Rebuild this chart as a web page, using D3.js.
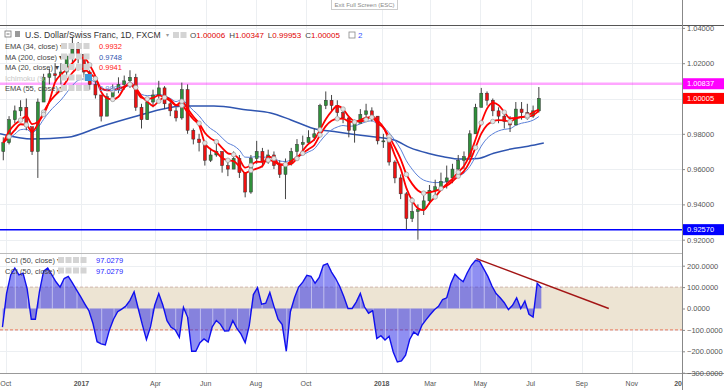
<!DOCTYPE html>
<html>
<head>
<meta charset="utf-8">
<script src="https://cdn.jsdelivr.net/npm/d3@7"></script>
<style>
  html, body { margin: 0; padding: 0; background: #fff; }
  svg { display: block; font-family: Arial, "Liberation Sans", sans-serif; }
</style>
</head>
<body>
<div id="chart"></div>
<script>
!(function(){
    "use strict"

    var width = 724;
    var height = 390;
    var axisX = 682;       // right price axis
    var mainBottom = 253;  // separator between price and CCI panes
    var cciBottom = 373;

    // weekly candles (USD/CHF, FXCM)
    var weekStart = "2016-09-26";
    var firstOpen = 0.970;
    var closes = [0.975,0.988,0.993,0.995,0.984,0.970,0.998,1.012,1.014,1.013,
                  1.015,1.024,1.028,1.025,1.015,1.008,1.002,0.990,1.001,1.005,
                  1.008,1.010,1.012,0.995,0.988,0.998,1.002,1.006,0.997,0.993,
                  0.989,1.005,0.982,0.977,0.975,0.965,0.968,0.970,0.962,0.960,
                  0.966,0.958,0.947,0.966,0.970,0.964,0.968,0.962,0.957,0.963,
                  0.970,0.974,0.975,0.978,0.980,0.996,0.999,0.996,0.992,0.989,
                  0.982,0.986,0.991,0.993,0.990,0.976,0.976,0.964,0.955,0.946,
                  0.932,0.936,0.937,0.942,0.948,0.950,0.953,0.955,0.960,0.965,
                  0.967,0.980,0.995,1.003,0.999,0.993,0.990,0.987,0.985,0.994,
                  0.992,0.990,0.993,1.00005];
    var highs = [0.978,0.990,0.996,0.999,1.000,0.983,1.000,1.014,1.017,1.020,
                 1.020,1.025,1.035,1.032,1.025,1.016,1.010,1.002,1.003,1.008,
                 1.012,1.013,1.016,1.014,0.997,1.000,1.005,1.010,1.007,0.999,
                 0.995,1.009,1.008,0.983,0.980,0.973,0.972,0.975,0.970,0.966,
                 0.970,0.968,0.958,0.968,0.976,0.972,0.971,0.970,0.965,0.966,
                 0.972,0.977,0.979,0.982,0.983,0.997,1.004,1.002,0.999,0.995,
                 0.990,0.988,0.994,0.997,0.995,0.990,0.980,0.978,0.965,0.957,
                 0.947,0.944,0.940,0.945,0.951,0.954,0.958,0.962,0.963,0.968,
                 0.970,0.982,0.997,1.006,1.004,1.000,0.995,0.993,0.990,0.998,
                 0.998,0.997,0.996,1.0065];
    var lows = [0.965,0.974,0.986,0.990,0.982,0.968,0.955,0.998,1.008,1.010,
                1.008,1.012,1.020,1.020,1.012,1.005,1.000,0.987,0.990,1.000,
                1.003,1.005,1.006,0.993,0.983,0.988,0.995,1.000,0.994,0.990,
                0.987,0.988,0.980,0.974,0.970,0.962,0.964,0.967,0.958,0.956,
                0.960,0.955,0.944,0.946,0.963,0.961,0.963,0.960,0.955,0.943,
                0.962,0.967,0.970,0.975,0.976,0.980,0.994,0.993,0.990,0.986,
                0.978,0.975,0.986,0.988,0.987,0.974,0.972,0.962,0.952,0.943,
                0.9257,0.930,0.920,0.934,0.940,0.943,0.948,0.949,0.952,0.957,
                0.960,0.966,0.980,0.995,0.996,0.990,0.986,0.983,0.981,0.985,
                0.988,0.988,0.989,0.992];

    // MA (200)
    var ma200Dates = ["2016-09-24","2016-11-03","2016-12-15","2017-01-24","2017-03-05","2017-04-16",
                      "2017-05-05","2017-06-11","2017-07-22","2017-08-19","2017-09-12","2017-10-10",
                      "2017-11-08","2017-12-09","2018-01-16","2018-02-05","2018-02-26","2018-03-17",
                      "2018-04-07","2018-04-28","2018-05-17","2018-06-07","2018-06-28","2018-07-17"];
    var ma200Values = [0.980,0.977,0.978,0.984,0.9895,0.9946,0.9957,0.9957,0.9935,0.9918,0.988,0.983,
                       0.981,0.979,0.9765,0.972,0.969,0.967,0.9657,0.966,0.969,0.9714,0.973,0.9748];

    // CCI (50, close), one reading every 5 days
    var cciStart = "2016-09-27";
    var cciValues = [-87,71,157,189,157,165,92,-50,-50,80,
                     175,189,157,125,100,140,150,120,87,55,
                     22,-10,-70,-155,-165,-170,-100,-50,-15,-3,
                     12,38,78,0,-75,-145,-85,14,70,15,
                     -57,-88,-100,-135,5,-40,-200,-200,-160,-142,
                     -157,-86,-56,-74,-105,-104,-57,-93,-120,-160,
                     -80,65,98,20,25,75,10,-50,-75,-200,
                     -15,50,100,123,155,150,118,145,202,210,
                     170,140,103,55,0,0,30,70,8,-22,
                     -10,-140,-127,-147,-130,-203,-250,-245,-218,-145,
                     -110,-124,-77,-52,-28,-6,10,42,50,117,
                     160,140,125,167,202,225,220,185,150,105,
                     70,50,27,-5,15,50,0,35,-27,-40,
                     118,97.03];
    var cciTrend = [["2018-04-26", 233], ["2018-10-04", 0]];

    var priceTicks = [1.04, 1.02, 1.00, 0.98, 0.96, 0.94, 0.92];
    var cciTicks = [200, 100, 0, -100, -200, -300];
    var timeTicks = [["2016-10-01","Oct",false],["2017-01-01","2017",true],["2017-04-01","Apr",false],
                     ["2017-06-01","Jun",false],["2017-08-01","Aug",false],["2017-10-01","Oct",false],
                     ["2018-01-01","2018",true],["2018-03-01","Mar",false],["2018-05-01","May",false],
                     ["2018-07-01","Jul",false],["2018-09-01","Sep",false],["2018-11-01","Nov",false],
                     ["2019-01-01","2019",true]];
    var levels = [{value: 1.00837, line: "rgba(255,0,255,0.35)", w: 2.5},
                  {value: 0.92570, line: "#0000ff", w: 1.5}];

    var parse = d3.utcParse("%Y-%m-%d");

    var candles = closes.map(function(c, i) {
        return {
            date: d3.utcDay.offset(parse(weekStart), i * 7 + 2),
            open: i === 0 ? firstOpen : closes[i - 1],
            high: highs[i],
            low: lows[i],
            close: c
        };
    });

    // indicator lines from the weekly closes (periods scaled from daily bars)
    function ema(period) {
        var k = 2 / (period + 1), prev = closes[0];
        return candles.map(function(d) { prev = d.close * k + prev * (1 - k); return {date: d.date, v: prev}; });
    }
    function sma(period) {
        return candles.map(function(d, i) {
            var s = closes.slice(Math.max(0, i - period + 1), i + 1);
            return {date: d.date, v: d3.mean(s)};
        });
    }
    var ema34 = ema(34 / 5);
    var ma20 = sma(4);
    var ema55 = ema(55 / 5);
    var ma200 = ma200Dates.map(function(d, i) { return {date: parse(d), v: ma200Values[i]}; });
    var cci = cciValues.map(function(v, i) { return {date: d3.utcDay.offset(parse(cciStart), i * 5), v: v}; });

    var x = d3.scaleUtc()
        .domain([parse("2016-09-24"), parse("2019-01-01")])
        .range([0, axisX]);
    var y = d3.scaleLinear().domain([0.92, 1.04]).range([239.7, 27.9]);
    var yc = d3.scaleLinear().domain([-300, 200]).range([372.7, 265.7]);

    var svg = d3.select("#chart").append("svg")
        .attr("width", width)
        .attr("height", height);

    svg.append("rect").attr("width", width).attr("height", height).attr("fill", "#fff");

    var defs = svg.append("defs");
    defs.append("clipPath").attr("id", "clipMain")
        .append("rect").attr("x", 0).attr("y", 0).attr("width", axisX).attr("height", mainBottom);
    defs.append("clipPath").attr("id", "clipCci")
        .append("rect").attr("x", 0).attr("y", mainBottom).attr("width", axisX).attr("height", cciBottom - mainBottom);
    defs.append("clipPath").attr("id", "clipAxis")
        .append("rect").attr("x", 0).attr("y", cciBottom).attr("width", axisX).attr("height", height - cciBottom);

    // ---- grid
    var grid = svg.append("g").attr("stroke", "#eceff2").attr("stroke-width", 1);
    grid.selectAll("line.v").data(timeTicks).enter().append("line")
        .attr("x1", function(d){ return Math.round(x(parse(d[0]))) + 0.5; })
        .attr("x2", function(d){ return Math.round(x(parse(d[0]))) + 0.5; })
        .attr("y1", 0).attr("y2", cciBottom);
    grid.selectAll("line.h").data(priceTicks).enter().append("line")
        .attr("x1", 0).attr("x2", axisX)
        .attr("y1", function(d){ return Math.round(y(d)) + 0.5; })
        .attr("y2", function(d){ return Math.round(y(d)) + 0.5; });
    grid.selectAll("line.c").data(cciTicks.slice(0, 5)).enter().append("line")
        .attr("x1", 0).attr("x2", axisX)
        .attr("y1", function(d){ return Math.round(yc(d)) + 0.5; })
        .attr("y2", function(d){ return Math.round(yc(d)) + 0.5; });

    // ---- price pane
    var main = svg.append("g").attr("clip-path", "url(#clipMain)");

    main.selectAll("line.level").data(levels).enter().append("line")
        .attr("x1", 0).attr("x2", axisX)
        .attr("y1", function(d){ return y(d.value); })
        .attr("y2", function(d){ return y(d.value); })
        .attr("stroke", function(d){ return d.line; })
        .attr("stroke-width", function(d){ return d.w; });

    var line = d3.line()
        .x(function(d){ return x(d.date); })
        .y(function(d){ return y(d.v); })
        .curve(d3.curveMonotoneX);

    main.append("path").datum(ma200).attr("d", line)
        .attr("fill", "none").attr("stroke", "#2f55b0").attr("stroke-width", 1.5);
    main.append("path").datum(ema55).attr("d", line)
        .attr("fill", "none").attr("stroke", "#5a7fd8").attr("stroke-width", 1);

    // candles
    var bodyW = 3;
    var cg = main.append("g");
    cg.selectAll("line.wick").data(candles).enter().append("line")
        .attr("x1", function(d){ return x(d.date); })
        .attr("x2", function(d){ return x(d.date); })
        .attr("y1", function(d){ return y(d.high); })
        .attr("y2", function(d){ return y(d.low); })
        .attr("stroke", "#444").attr("stroke-width", 1);
    cg.selectAll("rect").data(candles).enter().append("rect")
        .attr("x", function(d){ return x(d.date) - bodyW / 2; })
        .attr("y", function(d){ return y(Math.max(d.open, d.close)); })
        .attr("width", bodyW)
        .attr("height", function(d){ return Math.max(1, Math.abs(y(d.open) - y(d.close))); })
        .attr("fill", function(d){ return d.close >= d.open ? "#2f8f3a" : "#ee1111"; })
        .attr("stroke", "#333").attr("stroke-width", 0.5);

    main.append("path").datum(ema34).attr("d", line)
        .attr("fill", "none").attr("stroke", "#ff0000").attr("stroke-width", 1.8);
    main.append("path").datum(ma20).attr("d", line)
        .attr("fill", "none").attr("stroke", "#ff0000").attr("stroke-width", 1.8);

    // little grey markers sitting on the averages
    var marks = ema34.filter(function(d, i){ return i % 3 === 1; })
        .concat(ma20.filter(function(d, i){ return i % 4 === 3; }));
    main.selectAll("circle.mk").data(marks).enter().append("circle")
        .attr("cx", function(d){ return x(d.date); })
        .attr("cy", function(d){ return y(d.v); })
        .attr("r", 2.3)
        .attr("fill", "#e4e4e4").attr("stroke", "#9a9a9a").attr("stroke-width", 0.7);

    // ---- CCI pane
    var cp = svg.append("g").attr("clip-path", "url(#clipCci)");
    cp.append("rect")
        .attr("x", 0).attr("width", axisX)
        .attr("y", yc(100)).attr("height", yc(-100) - yc(100))
        .attr("fill", "#ede4d3");
    cp.append("line").attr("x1", 0).attr("x2", axisX)
        .attr("y1", yc(100)).attr("y2", yc(100))
        .attr("stroke", "#c9a9a0").attr("stroke-dasharray", "3,2").attr("stroke-width", 0.8);
    cp.append("line").attr("x1", 0).attr("x2", axisX)
        .attr("y1", yc(-100)).attr("y2", yc(-100))
        .attr("stroke", "#e85a3a").attr("stroke-dasharray", "3,2").attr("stroke-width", 0.8);

    var area = d3.area()
        .x(function(d){ return x(d.date); })
        .y0(yc(0))
        .y1(function(d){ return yc(d.v); });
    cp.append("path").datum(cci).attr("d", area)
        .attr("fill", "rgba(40,40,230,0.52)");
    cp.selectAll("line.hist").data(cci.filter(function(d, i){ return i % 3 === 0; })).enter().append("line")
        .attr("x1", function(d){ return x(d.date) + 0.5; })
        .attr("x2", function(d){ return x(d.date) + 0.5; })
        .attr("y1", yc(0))
        .attr("y2", function(d){ return yc(d.v); })
        .attr("stroke", "rgba(255,255,255,0.6)").attr("stroke-width", 0.8);
    cp.append("path").datum(cci)
        .attr("d", d3.line().x(function(d){ return x(d.date); }).y(function(d){ return yc(d.v); }))
        .attr("fill", "none").attr("stroke", "#1010ee").attr("stroke-width", 1.4);
    cp.append("line")
        .attr("x1", x(parse(cciTrend[0][0]))).attr("y1", yc(cciTrend[0][1]))
        .attr("x2", x(parse(cciTrend[1][0]))).attr("y2", yc(cciTrend[1][1]))
        .attr("stroke", "#a31515").attr("stroke-width", 1.4);

    // ---- frame
    svg.append("line").attr("x1", 0).attr("x2", width).attr("y1", 25.5).attr("y2", 25.5)
        .attr("stroke", "#555").attr("stroke-width", 1);
    svg.append("line").attr("x1", 0).attr("x2", axisX).attr("y1", mainBottom + 0.5).attr("y2", mainBottom + 0.5)
        .attr("stroke", "#bbb");
    svg.append("line").attr("x1", 0).attr("x2", width).attr("y1", cciBottom + 0.5).attr("y2", cciBottom + 0.5)
        .attr("stroke", "#999");
    svg.append("line").attr("x1", axisX + 0.5).attr("x2", axisX + 0.5).attr("y1", 0).attr("y2", height)
        .attr("stroke", "#888");

    // ---- right axes
    var axisFont = 7.5;
    var yAxis = d3.axisRight(y).tickValues(priceTicks).tickSize(3).tickFormat(d3.format(".5f"));
    var ga = svg.append("g").attr("transform", "translate(" + axisX + ",0)").call(yAxis);
    var cAxis = d3.axisRight(yc).tickValues(cciTicks).tickSize(3).tickFormat(d3.format(".4f"));
    var gc = svg.append("g").attr("transform", "translate(" + axisX + ",0)").call(cAxis);
    [ga, gc].forEach(function(g) {
        g.select(".domain").remove();
        g.selectAll("line").attr("stroke", "#888");
        g.selectAll("text").attr("font-size", axisFont).attr("fill", "#555").attr("x", 5);
    });

    // price labels on the axis
    var tags = [{v: 1.00837, c: "#ff00ff"}, {v: 1.00005, c: "#ff0000"}, {v: 0.92570, c: "#0000ff"}];
    var tg = svg.append("g").selectAll("g").data(tags).enter().append("g")
        .attr("transform", function(d){ return "translate(" + (axisX + 1) + "," + y(d.v) + ")"; });
    tg.append("rect").attr("x", 0).attr("y", -5.5).attr("width", width - axisX).attr("height", 11)
        .attr("fill", function(d){ return d.c; });
    tg.append("text").attr("x", 4).attr("dy", "0.35em")
        .attr("font-size", axisFont).attr("fill", "#fff")
        .text(function(d){ return d3.format(".5f")(d.v); });

    // ---- time axis
    var ta = svg.append("g").attr("clip-path", "url(#clipAxis)");
    ta.selectAll("text").data(timeTicks).enter().append("text")
        .attr("x", function(d){ return x(parse(d[0])); })
        .attr("y", 386)
        .attr("text-anchor", "middle")
        .attr("font-size", 7)
        .attr("font-weight", function(d){ return d[2] ? "bold" : "normal"; })
        .attr("fill", "#555")
        .text(function(d){ return d[1]; });

    // ---- legend
    var lg = svg.append("g").attr("font-size", 7.5).attr("fill", "#555");
    function icons(g, x0, yy, n) {
        for (var i = 0; i < n; i++) {
            g.append("rect").attr("x", x0 + i * 7.5).attr("y", yy - 6).attr("width", 6).attr("height", 6)
                .attr("fill", "#d4d4d4");
        }
    }
    svg.append("rect").attr("x", 5).attr("y", 31).attr("width", 6).attr("height", 6)
        .attr("fill", "#fff").attr("stroke", "#777").attr("stroke-width", 0.8);
    svg.append("line").attr("x1", 6.5).attr("x2", 9.5).attr("y1", 34).attr("y2", 34).attr("stroke", "#777");
    svg.append("rect").attr("x", 15).attr("y", 31).attr("width", 5).attr("height", 6).attr("fill", "#999");
    lg.append("text").attr("x", 25).attr("y", 38).attr("font-size", 8.6).attr("fill", "#333")
        .text("U.S. Dollar/Swiss Franc, 1D, FXCM");
    lg.append("text").attr("x", 166).attr("y", 37).attr("font-size", 6).attr("fill", "#999").text("\u25BE");
    icons(lg, 173, 38, 2);
    var ohlc = [["O", "1.00006"], ["H", "1.00347"], ["L", "0.99953"], ["C", "1.00005"]];
    var ot = lg.append("text").attr("x", 190).attr("y", 38).attr("font-size", 8);
    ohlc.forEach(function(p, i) {
        ot.append("tspan").attr("fill", "#444").attr("dx", i ? 4 : 0).text(p[0]);
        ot.append("tspan").attr("fill", "#e00000").text(p[1]);
    });
    svg.append("rect").attr("x", 349).attr("y", 32).attr("width", 6).attr("height", 6)
        .attr("fill", "#fff").attr("stroke", "#888").attr("stroke-width", 0.8);
    lg.append("text").attr("x", 358).attr("y", 38).attr("font-size", 8).attr("fill", "#3355ff").text("2");

    var rows = [
        {name: "EMA (34, close)", value: "0.9932", color: "#ff2020", y: 49},
        {name: "MA (200, close)", value: "0.9748", color: "#2f55b0", y: 59.5},
        {name: "MA (20, close)", value: "0.9941", color: "#ff2020", y: 70},
        {name: "Ichimoku (9, 26, 52, 26)", value: "", color: "#bbb", y: 80.5, faded: true},
        {name: "EMA (55, close)", value: "0.9888", color: "#5a7fd8", y: 91}
    ];
    rows.forEach(function(r) {
        lg.append("text").attr("x", 5).attr("y", r.y)
            .attr("fill", r.faded ? "#c8c8c8" : "#444")
            .text(r.faded ? r.name.slice(0, 12) : r.name + " \u25BE");
        icons(lg, 61, r.y, 4);
        if (!r.faded) {
            lg.append("text").attr("x", 99).attr("y", r.y).attr("fill", r.color).text(r.value);
        } else {
            lg.append("rect").attr("x", 85).attr("y", r.y - 6.5).attr("width", 7).attr("height", 7)
                .attr("fill", "#3a9ad9");
        }
    });

    // CCI legend
    [263, 273.5].forEach(function(yy) {
        lg.append("text").attr("x", 5).attr("y", yy).attr("fill", "#444").text("CCI (50, close) \u25BE");
        icons(lg, 58, yy, 4);
        lg.append("text").attr("x", 96).attr("y", yy).attr("fill", "#2a2aff").text("97.0279");
    });

    // exit full screen tooltip
    svg.append("rect").attr("x", 331.5).attr("y", -1).attr("width", 66).attr("height", 10.5)
        .attr("fill", "#fff").attr("stroke", "#ccc");
    svg.append("text").attr("x", 364.5).attr("y", 6.5).attr("text-anchor", "middle")
        .attr("font-size", 6).attr("fill", "#888").text("Exit Full Screen (ESC)");

}());
</script>
</body>
</html>
